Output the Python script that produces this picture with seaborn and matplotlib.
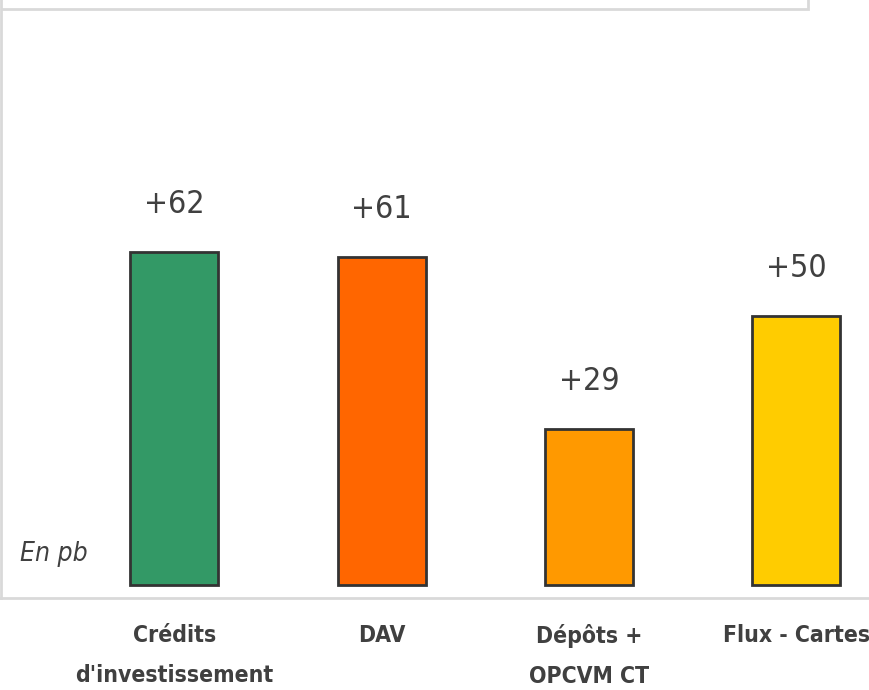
import seaborn as sns
import pandas as pd
import matplotlib.pyplot as plt
from matplotlib.patches import Rectangle

categories = ["Crédits\nd'investissement", "DAV", "Dépôts +\nOPCVM CT", "Flux - Cartes"]
values = [62, 61, 29, 50]
labels = ["+62", "+61", "+29", "+50"]
colors = ["#339966", "#ff6600", "#ff9900", "#ffcc00"]

sns.set_theme(style="white")
plt.rcParams['font.family'] = ['DejaVu Sans']
plt.rcParams['font.stretch'] = 'condensed'

TEXT = "#404040"
GRID = "#d9d9d9"


def main():
    data = pd.DataFrame({"cat": categories, "val": values})
    fig = plt.figure(figsize=(8.7, 6.9), dpi=100)
    ax = fig.add_axes([1 / 870, 1 - 598 / 690, 1.0, (598 - 10) / 690])

    sns.barplot(data=data, x="cat", y="val", hue="cat", palette=colors, legend=False,
                saturation=1, width=0.425, edgecolor="#333333", linewidth=2, ax=ax)

    ax.set_ylim(-2.4, 107)
    ax.set_xlim(-0.836, 3.36)
    for bar in ax.patches:
        bar.set_y(0)

    for i, (v, lab) in enumerate(zip(values, labels)):
        ax.text(i, v + 6, lab, ha="center", va="bottom", fontsize=23, color=TEXT,
                fontstretch="condensed")

    ax.set_yticks([])
    ax.set_xlabel("")
    ax.set_ylabel("")
    ax.tick_params(axis="x", length=0, labelsize=16.5, labelcolor=TEXT, pad=19)
    for lab in ax.get_xticklabels():
        lab.set_fontweight("bold")
        lab.set_fontstretch("condensed")
        lab.set_linespacing(1.95)
    for side in ["top", "right"]:
        ax.spines[side].set_visible(False)
    for side in ["left", "bottom"]:
        ax.spines[side].set_color(GRID)
        ax.spines[side].set_linewidth(2)

    ax.text(19 / 870, 0.075, "En pb", transform=ax.transAxes, fontsize=19,
            style="italic", color=TEXT, va="center", fontstretch="condensed")

    fig.add_artist(Rectangle((1 / 870, 1 - 9 / 690), 807 / 870, 0.05, transform=fig.transFigure,
                             fill=False, edgecolor=GRID, linewidth=2))

    fig.savefig("out.png", dpi=100)


if __name__ == "__main__":
    main()
